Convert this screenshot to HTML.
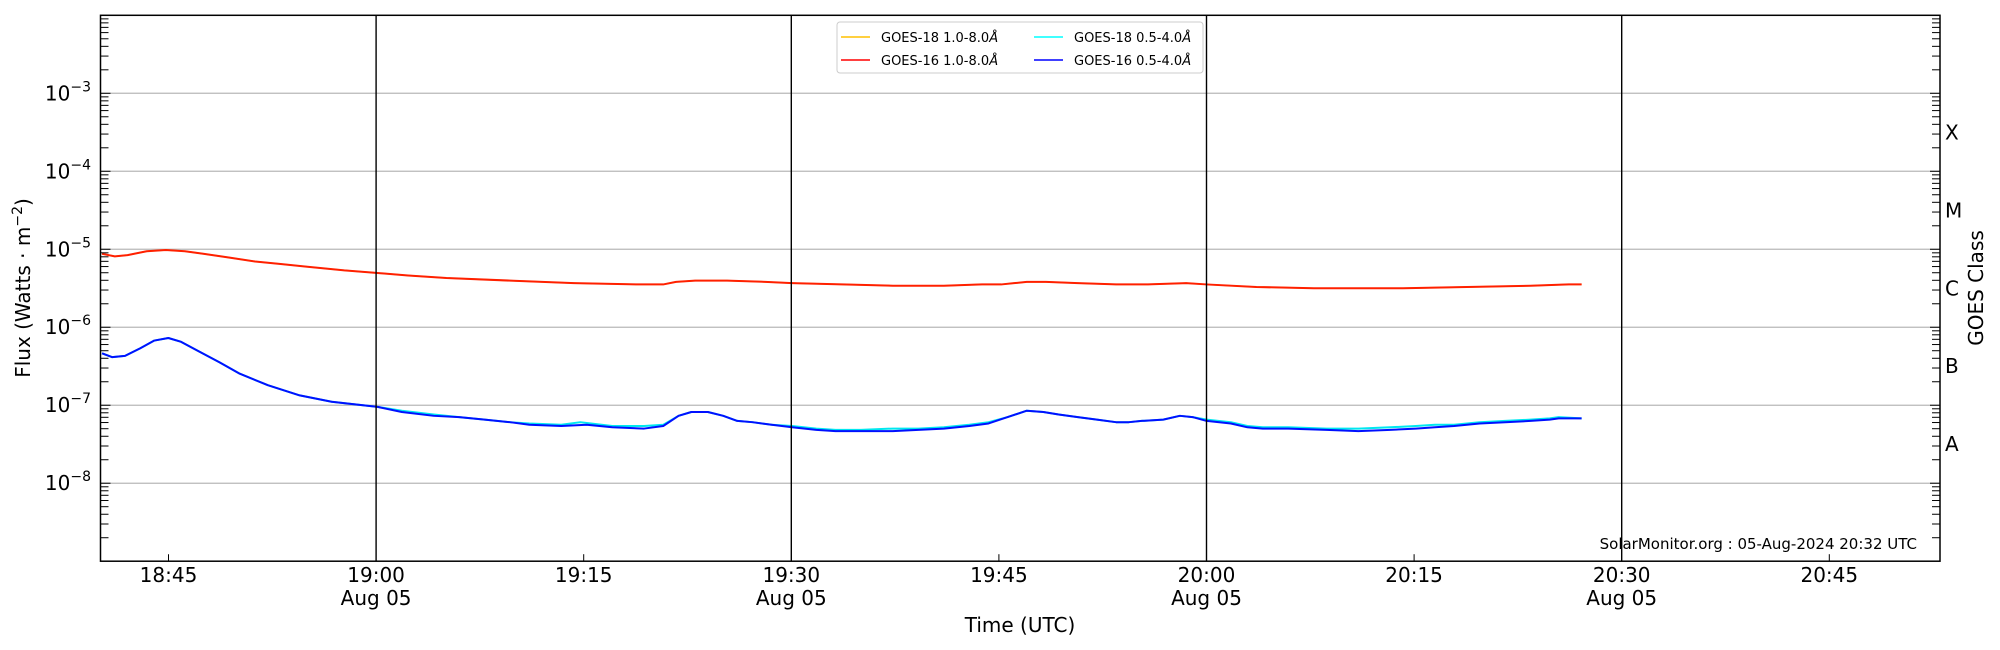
<!DOCTYPE html>
<html><head><meta charset="utf-8"><style>
html,body{margin:0;padding:0;background:#fff;}
svg{display:block;font-family:"DejaVu Sans","Liberation Sans",sans-serif;}
</style></head><body>
<svg id="s" width="2000" height="650" xmlns="http://www.w3.org/2000/svg">
<rect width="2000" height="650" fill="#fff"/>
<g id="grid"></g>
<g transform="scale(1.2755,1.2755)" fill="none" stroke-linejoin="round">
<polyline vector-effect="non-scaling-stroke" stroke="#ffc000" stroke-width="1.5" points="80,199 90,201 100,200 115,197 130,196 145,197 160,199 180,202 200,205 220,207 240,209 270,212 296,214 320,216 350,218 400,220 450,222 500,223 520,223 530,221 545,220 570,220 600,221 621,222 660,223 700,224 740,224 770,223 785,223 795,222 805,221 820,221 845,222 875,223 900,223 930,222 946,223 985,225 1030,226 1080,226 1100,226 1150,225 1200,224 1230,223 1240,223"/>
<polyline vector-effect="non-scaling-stroke" stroke="#ff2000" stroke-width="2" points="80,199 90,201 100,200 115,197 130,196 145,197 160,199 180,202 200,205 220,207 240,209 270,212 296,214 320,216 350,218 400,220 450,222 500,223 520,223 530,221 545,220 570,220 600,221 621,222 660,223 700,224 740,224 770,223 785,223 795,222 805,221 820,221 845,222 875,223 900,223 930,222 946,223 985,225 1030,226 1080,226 1100,226 1150,225 1200,224 1230,223 1240,223"/>
<polyline vector-effect="non-scaling-stroke" stroke="#00e8f0" stroke-width="2" points="80,277 88,280 98,279 110,273 121,267 132,265 142,268 155,275 172,284 188,293 210,302 235,310 260,315 296,319 315,322 340,325 360,327 380,329 400,331 415,332 440,333 455,331 480,334 505,334 520,333 532,326 542,323 555,323 567,326 578,330 590,331 605,333 621,334 640,336 655,337 675,337 700,336 720,336 740,335 760,333 775,331 790,327 805,322 818,323 830,325 845,327 860,329 875,331 885,331 895,330 912,329 925,326 935,327 946,329 965,331 978,334 990,335 1010,335 1040,336 1065,336 1090,335 1110,334 1125,333 1140,333 1160,331 1180,330 1200,329 1215,328 1222,327 1240,328"/>
<polyline vector-effect="non-scaling-stroke" stroke="#0010ff" stroke-width="2" points="80,277 88,280 98,279 110,273 121,267 132,265 142,268 155,275 172,284 188,293 210,302 235,310 260,315 296,319 315,323 340,326 360,327 380,329 400,331 415,333 440,334 460,333 480,335 505,336 520,334 532,326 542,323 555,323 567,326 578,330 590,331 605,333 621,335 640,337 655,338 675,338 700,338 720,337 740,336 760,334 775,332 790,327 805,322 818,323 830,325 845,327 860,329 875,331 885,331 895,330 912,329 925,326 935,327 946,330 965,332 978,335 990,336 1010,336 1040,337 1065,338 1090,337 1110,336 1125,335 1140,334 1160,332 1180,331 1200,330 1215,329 1222,328 1240,328"/>
</g>
<g id="ax"></g>
<rect x="100.5" y="15.3" width="1839.5" height="545.9" fill="none" stroke="#000" stroke-width="1.5"/>
<!-- legend -->
<rect x="837" y="22" width="366" height="51" rx="3" fill="#fff" fill-opacity="0.85" stroke="#ccc"/>
<line x1="841" y1="37" x2="870" y2="37" stroke="#ffc000" stroke-width="1.5"/>
<line x1="841" y1="60" x2="870" y2="60" stroke="#ff0000" stroke-width="1.5"/>
<line x1="1034" y1="37" x2="1063" y2="37" stroke="#00ffff" stroke-width="1.5"/>
<line x1="1034" y1="60" x2="1063" y2="60" stroke="#0000ff" stroke-width="1.5"/>
<g font-size="13" fill="#000">
<text x="881" y="42">GOES-18 1.0-8.0<tspan font-style="italic">Å</tspan></text>
<text x="881" y="65">GOES-16 1.0-8.0<tspan font-style="italic">Å</tspan></text>
<text x="1074" y="42">GOES-18 0.5-4.0<tspan font-style="italic">Å</tspan></text>
<text x="1074" y="65">GOES-16 0.5-4.0<tspan font-style="italic">Å</tspan></text>
</g>
<text x="1917" y="549" text-anchor="end" font-size="15">SolarMonitor.org : 05-Aug-2024 20:32 UTC</text>
<text x="1020" y="632" text-anchor="middle" font-size="20">Time (UTC)</text>
<text transform="translate(30,288) rotate(-90)" text-anchor="middle" font-size="20">Flux (Watts · m<tspan dy="-8" font-size="14">−2</tspan><tspan dy="8">)</tspan></text>
<text transform="translate(1983,288) rotate(-90)" text-anchor="middle" font-size="20">GOES Class</text>
</svg>
<script>
const NS="http://www.w3.org/2000/svg";
const g=document.getElementById('grid'),ax=document.getElementById('ax');
function el(p,t,a,txt){const e=document.createElementNS(NS,t);for(const k in a)e.setAttribute(k,a[k]);if(txt!==undefined)e.innerHTML=txt;p.appendChild(e);return e;}
const L=100.5,R=1940,T=15.3,B=561.2,D=(B-T)/7;
function yOf(lg){return T+(-2-lg)*D;}
function xOf(min){return 168.5+(min-5)*207.6/15;}
for(let e=-3;e>=-8;e--){const y=yOf(e);
 el(g,'line',{x1:L,x2:R,y1:y,y2:y,stroke:'#b8b8b8','stroke-width':1.3});
 el(ax,'text',{x:91,y:y+7,'text-anchor':'end','font-size':20},'10<tspan dy="-9" font-size="14">−'+(-e)+'</tspan>');
}
for(let e=-9;e<-2;e++){for(let m=1;m<10;m++){const y=yOf(e+Math.log10(m));if(y<T+1||y>B-1)continue;
 const len=m==1?10:8;
 el(ax,'line',{x1:L,x2:L+len,y1:y,y2:y,stroke:'#000','stroke-width':1});
 el(ax,'line',{x1:R,x2:R-len,y1:y,y2:y,stroke:'#000','stroke-width':1});}}
[['X',-4],['M',-5],['C',-6],['B',-7],['A',-8]].forEach(([c,e])=>{const y=(yOf(e)+yOf(e+1))/2;
 el(ax,'text',{x:1945,y:y+7,'font-size':20},c);});
const ticks=[[5,'18:45'],[20,'19:00',1],[35,'19:15'],[50,'19:30',1],[65,'19:45'],[80,'20:00',1],[95,'20:15'],[110,'20:30',1],[125,'20:45']];
ticks.forEach(([m,s,maj])=>{const x=xOf(m);
 if(maj)el(ax,'line',{x1:x,x2:x,y1:T,y2:B,stroke:'#000','stroke-width':1.4});
 else el(ax,'line',{x1:x,x2:x,y1:B,y2:B-7,stroke:'#000','stroke-width':1});
 el(ax,'text',{x:x,y:582,'text-anchor':'middle','font-size':20},s);
 if(maj)el(ax,'text',{x:x,y:605,'text-anchor':'middle','font-size':20},'Aug 05');
});
</script>
</body></html>
